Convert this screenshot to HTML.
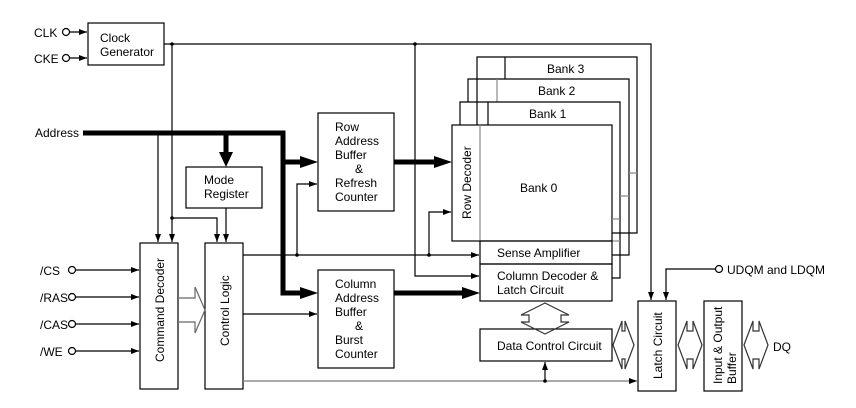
<!DOCTYPE html>
<html><head><meta charset="utf-8"><style>
html,body{margin:0;padding:0;background:#fff;}
svg{display:block;font-family:"Liberation Sans",Arial,sans-serif;font-size:12px;}
</style></head><body>
<svg width="856" height="408" viewBox="0 0 856 408" xmlns="http://www.w3.org/2000/svg">
<defs>
<marker id="a" markerWidth="8" markerHeight="6" refX="8" refY="3" orient="auto" markerUnits="userSpaceOnUse"><path d="M0,0L8,3L0,6z" fill="#000"/></marker>
</defs>
<g fill="none" stroke="#000" stroke-width="1.2">
<rect x="88" y="23" width="76" height="42"/>
<rect x="186" y="167" width="76" height="41"/>
<rect x="140" y="243" width="38" height="146"/>
<rect x="205" y="243" width="38" height="146"/>
<rect x="318" y="113" width="76" height="98"/>
<rect x="318" y="270" width="76" height="98"/>
<path d="M477,233V57H637V233H612"/><path d="M505,57V79"/>
<path d="M468,102V79H629V255H612"/><path d="M497,79V102" stroke="#888"/>
<path d="M460,125V102H620V278H612"/><path d="M488,102V125"/>
<rect x="452" y="125" width="160" height="116" fill="#fff"/>
<path d="M480,125V241" stroke="#888"/>
<path d="M629,173H637M620,196H629M612,219H620" stroke="#888"/>
<path d="M612,241H620" stroke="#888"/>
<rect x="480" y="241" width="132" height="23"/>
<rect x="480" y="264" width="132" height="37"/>
<rect x="480" y="329" width="132" height="32"/>
<rect x="638" y="301" width="38" height="90"/>
<rect x="704" y="301" width="38" height="90"/>
<circle cx="66" cy="32" r="3.5"/><path d="M70,32H87" marker-end="url(#a)"/>
<circle cx="66" cy="58" r="3.5"/><path d="M70,58H87" marker-end="url(#a)"/>
<circle cx="72" cy="270" r="3.5"/><path d="M76,270H139" marker-end="url(#a)"/>
<circle cx="72" cy="297" r="3.5"/><path d="M76,297H139" marker-end="url(#a)"/>
<circle cx="72" cy="324" r="3.5"/><path d="M76,324H139" marker-end="url(#a)"/>
<circle cx="72" cy="351" r="3.5"/><path d="M76,351H139" marker-end="url(#a)"/>
<path d="M164,44H651V300" marker-end="url(#a)"/>
<path d="M172,44V242" marker-end="url(#a)"/>
<path d="M172,218H217V242" marker-end="url(#a)"/>
<path d="M415,44V276H479" marker-end="url(#a)"/>
<path d="M158,133V242" marker-end="url(#a)"/>
<path d="M226,208V242" marker-end="url(#a)"/>
<path d="M243,255H479" marker-end="url(#a)"/>
<path d="M297,255V184H317" marker-end="url(#a)"/>
<path d="M429,255V212H451" marker-end="url(#a)"/>
<path d="M243,314H317" marker-end="url(#a)"/>
<path d="M243,381H637" stroke="#777" marker-end="url(#a)"/>
<path d="M545,381V362" marker-end="url(#a)"/>
<circle cx="719" cy="269" r="3.5"/><path d="M715,269H666V300" marker-end="url(#a)"/>
<path d="M178,298H195V287L205,310L195,333V322H178" stroke="#666"/>
<path d="M521,315L545,303L569,315H561V322H569L545,334L521,322H529V315Z" stroke="#333"/>
<path d="M613,345L622,321V331H625V321L634,345L625,369V359H622V369Z" stroke="#333"/>
<path d="M678,345L687,321V331H693V321L702,345L693,369V359H687V369Z" stroke="#333"/>
<path d="M744,345L753,321V331H759V321L768,345L759,369V359H753V369Z" stroke="#333"/>
</g>
<g fill="none" stroke="#000" stroke-width="5">
<path d="M83,133H283V293H302"/>
<path d="M226,133V153"/>
<path d="M283,162H302"/>
<path d="M394,162H436"/>
<path d="M394,293H464"/>
</g>
<g fill="#000">
<path d="M219,152L233,152L226,167z"/>
<path d="M300,156L318,162L300,168z"/>
<path d="M434,156L452,162L434,168z"/>
<path d="M462,287L480,293L462,299z"/>
<path d="M300,287L318,293L300,299z"/>
<circle cx="172" cy="44" r="1.8"/><circle cx="415" cy="44" r="1.8"/>
<circle cx="172" cy="218" r="1.8"/><circle cx="297" cy="255" r="1.8"/>
<circle cx="429" cy="255" r="1.8"/><circle cx="545" cy="381" r="1.8"/>
</g>
<g fill="#000">
<text x="34" y="37">CLK</text><text x="34" y="63">CKE</text>
<text x="100" y="42">Clock</text><text x="100" y="56">Generator</text>
<text x="35" y="137">Address</text>
<text x="204" y="184">Mode</text><text x="204" y="198">Register</text>
<text x="40" y="275">/CS</text><text x="40" y="302">/RAS</text><text x="40" y="329">/CAS</text><text x="40" y="356">/WE</text>
<text transform="translate(164,362) rotate(-90)">Command Decoder</text>
<text transform="translate(229,346) rotate(-90)">Control Logic</text>
<text x="335" y="131">Row</text><text x="335" y="145">Address</text><text x="335" y="159">Buffer</text><text x="355" y="173">&amp;</text><text x="335" y="187">Refresh</text><text x="335" y="201">Counter</text>
<text x="335" y="288">Column</text><text x="335" y="302">Address</text><text x="335" y="316">Buffer</text><text x="355" y="330">&amp;</text><text x="335" y="344">Burst</text><text x="335" y="358">Counter</text>
<text x="547" y="73">Bank 3</text><text x="538" y="95">Bank 2</text><text x="529" y="118">Bank 1</text><text x="520" y="192">Bank 0</text>
<text transform="translate(471,219) rotate(-90)">Row Decoder</text>
<text x="497" y="257">Sense Amplifier</text>
<text x="497" y="280">Column Decoder &amp;</text><text x="497" y="294">Latch Circuit</text>
<text x="497" y="350">Data Control Circuit</text>
<text transform="translate(662,379) rotate(-90)">Latch Circuit</text>
<text transform="translate(722,384) rotate(-90)">Input &amp; Output</text>
<text transform="translate(736,384) rotate(-90)">Buffer</text>
<text x="727" y="274">UDQM and LDQM</text>
<text x="773" y="351">DQ</text>
</g>
</svg>
</body></html>
